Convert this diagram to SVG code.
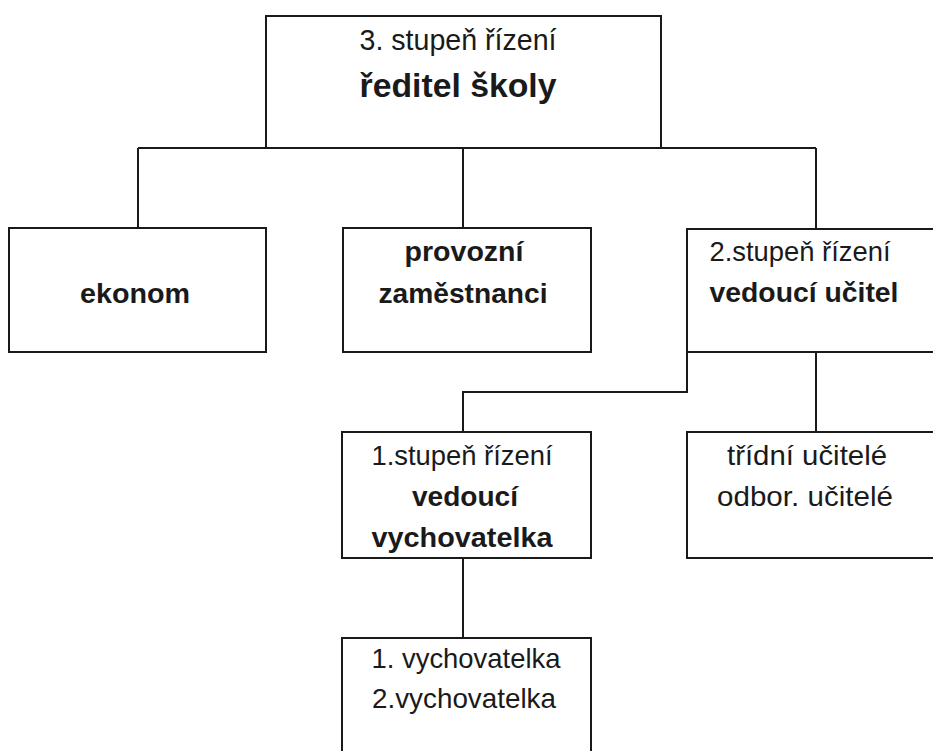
<svg xmlns="http://www.w3.org/2000/svg" width="933" height="751" viewBox="0 0 933 751">
<style>
.box{fill:#fff;stroke:#1a1a1a;stroke-width:2}
.conn{fill:none;stroke:#1a1a1a;stroke-width:2}
text{font-family:"Liberation Sans",Arial,sans-serif;fill:#1a1a1a;text-anchor:middle}
.r{font-size:28px;font-weight:normal}
.b{font-size:28.5px;font-weight:bold}
</style>
<rect x="0" y="0" width="933" height="751" fill="#fff"/>
<g id="connectors">
<path class="conn" d="M138 148 H816"/>
<path class="conn" d="M138 148 V228"/>
<path class="conn" d="M463 148 V228"/>
<path class="conn" d="M816 148 V229"/>
<path class="conn" d="M687 352 V392 H463 V432"/>
<path class="conn" d="M816 352 V432"/>
<path class="conn" d="M463 558 V638"/>
</g>
<g id="node-reditel">
<rect class="box" x="266" y="16" width="395" height="132"/>
<text class="r" x="458" y="50" style="font-size:29px" textLength="197" lengthAdjust="spacingAndGlyphs">3. stupeň řízení</text>
<text class="b" x="458" y="97" style="font-size:33px" textLength="197" lengthAdjust="spacingAndGlyphs">ředitel školy</text>
</g>
<g id="node-ekonom">
<rect class="box" x="9" y="228" width="257" height="124"/>
<text class="b" x="135" y="303" textLength="110" lengthAdjust="spacingAndGlyphs">ekonom</text>
</g>
<g id="node-provozni">
<rect class="box" x="343" y="228" width="248" height="124"/>
<text class="b" x="464" y="261" textLength="119" lengthAdjust="spacingAndGlyphs">provozní</text>
<text class="b" x="463" y="303" textLength="169" lengthAdjust="spacingAndGlyphs">zaměstnanci</text>
</g>
<g id="node-vedouci-ucitel">
<rect class="box" x="687" y="229" width="260" height="123"/>
<text class="r" x="800" y="261" textLength="181" lengthAdjust="spacingAndGlyphs">2.stupeň řízení</text>
<text class="b" x="804" y="302" textLength="189" lengthAdjust="spacingAndGlyphs">vedoucí učitel</text>
</g>
<g id="node-vedouci-vychovatelka">
<rect class="box" x="342" y="432" width="249" height="126"/>
<text class="r" x="462" y="465" textLength="181" lengthAdjust="spacingAndGlyphs">1.stupeň řízení</text>
<text class="b" x="465" y="506" textLength="106" lengthAdjust="spacingAndGlyphs">vedoucí</text>
<text class="b" x="462" y="547" textLength="181" lengthAdjust="spacingAndGlyphs">vychovatelka</text>
</g>
<g id="node-ucitele">
<rect class="box" x="687" y="432" width="260" height="126"/>
<text class="r" x="807" y="465" textLength="160" lengthAdjust="spacingAndGlyphs">třídní učitelé</text>
<text class="r" x="805" y="506" textLength="176" lengthAdjust="spacingAndGlyphs">odbor. učitelé</text>
</g>
<g id="node-vychovatelky">
<rect class="box" x="342" y="638" width="249" height="130"/>
<text class="r" x="466" y="668" textLength="189" lengthAdjust="spacingAndGlyphs">1. vychovatelka</text>
<text class="r" x="464" y="708" textLength="184" lengthAdjust="spacingAndGlyphs">2.vychovatelka</text>
</g>
</svg>
